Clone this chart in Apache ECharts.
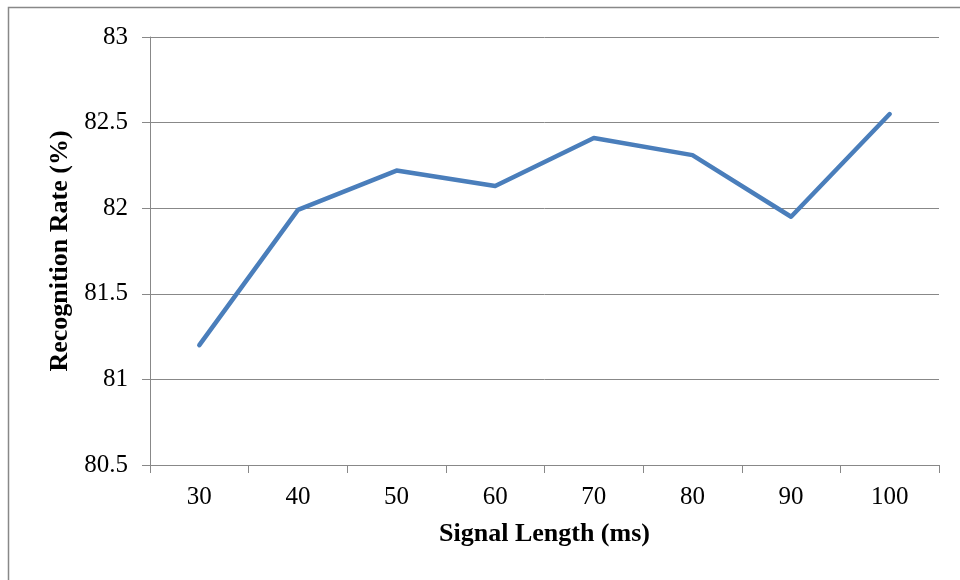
<!DOCTYPE html>
<html>
<head>
<meta charset="utf-8">
<script src="https://cdn.jsdelivr.net/npm/echarts@6/dist/echarts.min.js"></script>
<style>html,body{margin:0;padding:0;background:#fff}#c{width:960px;height:580px}</style>
</head>
<body>
<div id="c"></div>
<script>
var categories = ['30', '40', '50', '60', '70', '80', '90', '100'];
var recognitionRate = [81.20, 81.99, 82.22, 82.13, 82.41, 82.31, 81.95, 82.55];
var yMin = 80.5, yMax = 83, yStep = 0.5;
var xTitle = 'Signal Length (ms)';
var yTitle = 'Recognition Rate (%)';

var FONT = '"Liberation Serif", "Times New Roman", serif';
var GRAY = '#888888';
var chart = echarts.init(document.getElementById('c'), null, {renderer: 'canvas'});
chart.setOption({
  animation: false,
  backgroundColor: '#ffffff',
  graphic: [{
    type: 'rect', silent: true,
    shape: {x: 8.5, y: 7.5, width: 1200, height: 1200},
    style: {fill: 'none', stroke: GRAY, lineWidth: 1.5}
  }],
  grid: {left: 150, right: 21, top: 37, bottom: 115, containLabel: false},
  xAxis: {
    type: 'category',
    data: categories,
    boundaryGap: true,
    name: xTitle,
    nameLocation: 'middle',
    nameGap: 56,
    nameTextStyle: {fontFamily: FONT, fontSize: 26, fontWeight: 'bold', color: '#000'},
    axisLine: {show: true, lineStyle: {color: GRAY, width: 1}},
    axisTick: {show: true, length: 8, lineStyle: {color: GRAY, width: 1}},
    axisLabel: {fontFamily: FONT, fontSize: 25, color: '#000', margin: 20},
    splitLine: {show: false}
  },
  yAxis: {
    type: 'value',
    min: yMin, max: yMax, interval: yStep,
    name: yTitle,
    nameLocation: 'middle',
    nameGap: 72,
    nameRotate: 90,
    nameTextStyle: {fontFamily: FONT, fontSize: 26, fontWeight: 'bold', color: '#000'},
    axisLine: {show: true, lineStyle: {color: GRAY, width: 1}},
    axisTick: {show: true, length: 8, lineStyle: {color: GRAY, width: 1}},
    axisLabel: {fontFamily: FONT, fontSize: 25, color: '#000', margin: 22},
    splitLine: {show: true, lineStyle: {color: GRAY, width: 1}}
  },
  series: [{
    type: 'line',
    data: recognitionRate,
    showSymbol: false,
    symbol: 'none',
    lineStyle: {color: '#4a7ebb', width: 4.5, cap: 'round', join: 'round'},
    itemStyle: {color: '#4a7ebb'}
  }]
});
</script>
</body>
</html>
